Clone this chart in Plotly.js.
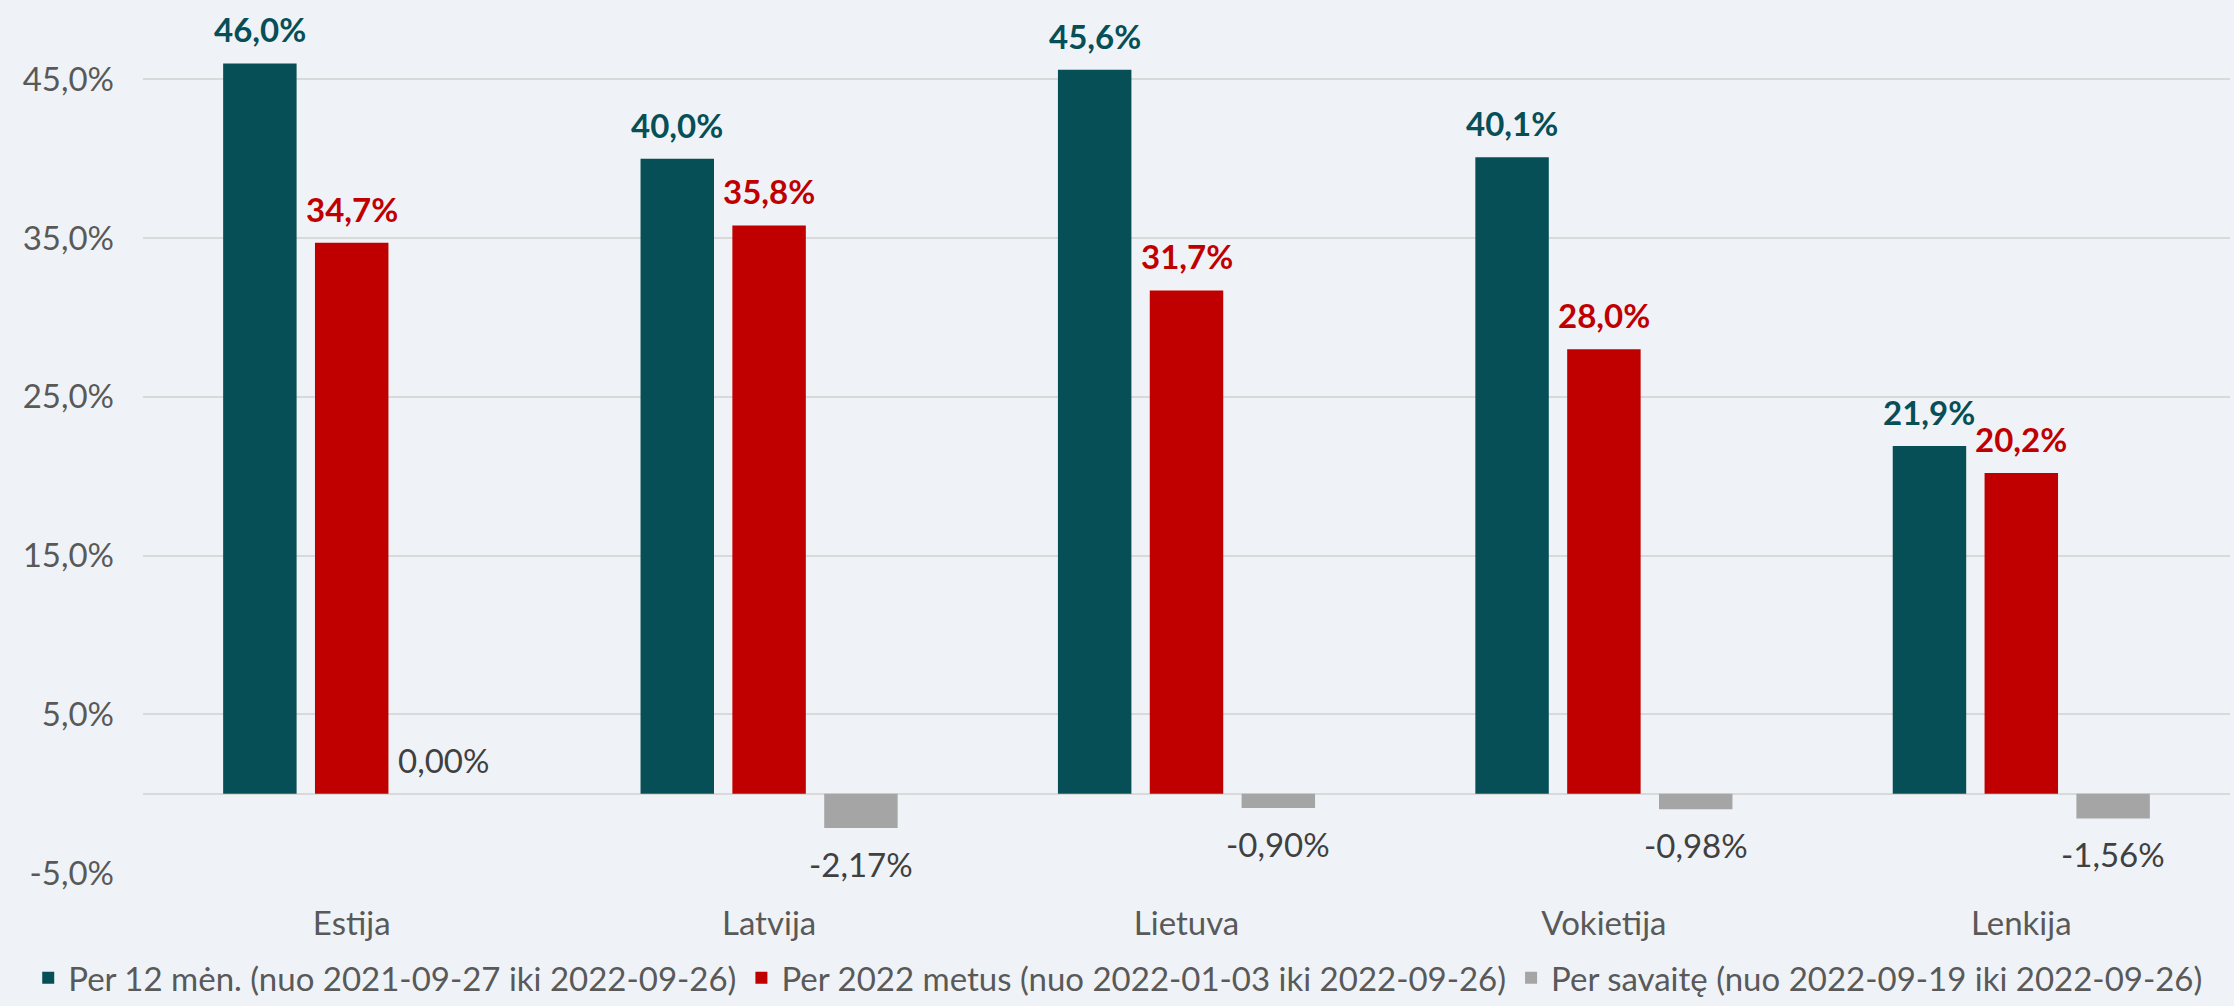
<!DOCTYPE html>
<html>
<head>
<meta charset="utf-8">
<script src="https://cdn.plot.ly/plotly-3.0.1.min.js"></script>
<style>
  html, body { margin: 0; padding: 0; background: #eff3f7; }
  #chart { width: 2234px; height: 1006px; }
</style>
</head>
<body>
<div id="chart"></div>
<script>
// Country return comparison — three periods
const countries = ['Estija', 'Latvija', 'Lietuva', 'Vokietija', 'Lenkija'];
const per12m    = [46.0, 40.0, 45.6, 40.1, 21.9];
const per2022   = [34.7, 35.8, 31.7, 28.0, 20.2];
const perWeek   = [0.00, -2.17, -0.90, -0.98, -1.56];

const seriesNames = [
    'Per 12 mėn. (nuo 2021-09-27 iki 2022-09-26)',
    'Per 2022 metus (nuo 2022-01-03 iki 2022-09-26)',
    'Per savaitę (nuo 2022-09-19 iki 2022-09-26)'
];
const yTicks = [-5, 5, 15, 25, 35, 45];

const FONT = 'Lato, "Open Sans", sans-serif';
const TEAL = '#074f57';
const RED  = '#c00000';
const GREY = '#a5a5a5';
const FS   = 33;

const W = 2234, H = 1006;
const M = { l: 143, r: 4, t: 0, b: 133, autoexpand: false };
const BARGAP = 0.34;

// lt-LT style number: comma decimal, plain hyphen minus
const pct = (v, d) => v.toFixed(d).replace('.', ',') + '%';

const series = [
    { y: per12m,  color: TEAL, digits: 1, label: { color: TEAL, weight: 'bold' } },
    { y: per2022, color: RED,  digits: 1, label: { color: RED,  weight: 'bold' } },
    { y: perWeek, color: GREY, digits: 2, label: { color: '#404040', weight: 'normal' } }
];

const traces = series.map((s, i) => ({
    x: countries, y: s.y, name: seriesNames[i], type: 'bar',
    marker: { color: s.color },
    hoverinfo: 'skip'
}));

// data labels: one per bar, placed at the bar end, shifted to its slot in the group
const slotPx = (W - M.l - M.r) / countries.length * (1 - BARGAP) / series.length;
const annotations = [];
series.forEach((s, i) => {
    s.y.forEach((v, j) => {
        const up = v >= 0;
        annotations.push({
            x: countries[j], y: v, xref: 'x', yref: 'y',
            text: pct(v, s.digits),
            showarrow: false,
            xshift: (i - 1) * slotPx,
            yanchor: up ? 'bottom' : 'top',
            yshift: up ? 12 : -14,
            font: { family: FONT, size: FS, color: s.label.color, weight: s.label.weight }
        });
    });
});

const layout = {
    width: W, height: H,
    paper_bgcolor: '#eff3f7',
    plot_bgcolor:  '#eff3f7',
    font: { family: FONT, size: FS, color: '#595959' },
    margin: M,
    barmode: 'group',
    bargap: BARGAP,
    bargroupgap: 0.2,
    showlegend: true,
    legend: {
        orientation: 'h',
        x: -0.055, xanchor: 'left',
        y: -0.088, yanchor: 'top',
        font: { family: FONT, size: FS, color: '#595959' },
        itemwidth: 30,
        itemclick: false
    },
    annotations: annotations,
    xaxis: {
        showgrid: false,
        showline: false,
        ticks: '',
        ticklabelstandoff: 28,
        tickfont: { family: FONT, size: FS, color: '#595959' }
    },
    yaxis: {
        range: [-5, 50],
        tickvals: yTicks,
        ticktext: yTicks.map(v => pct(v, 1)),
        showgrid: true,
        gridcolor: '#d9d9d9',
        gridwidth: 2,
        zeroline: true,
        zerolinecolor: '#d9d9d9',
        zerolinewidth: 2,
        ticks: '',
        ticklabelstandoff: 28,
        tickfont: { family: FONT, size: FS, color: '#595959' }
    }
};

Plotly.newPlot('chart', traces, layout, { displayModeBar: false, staticPlot: true });
</script>
</body>
</html>
